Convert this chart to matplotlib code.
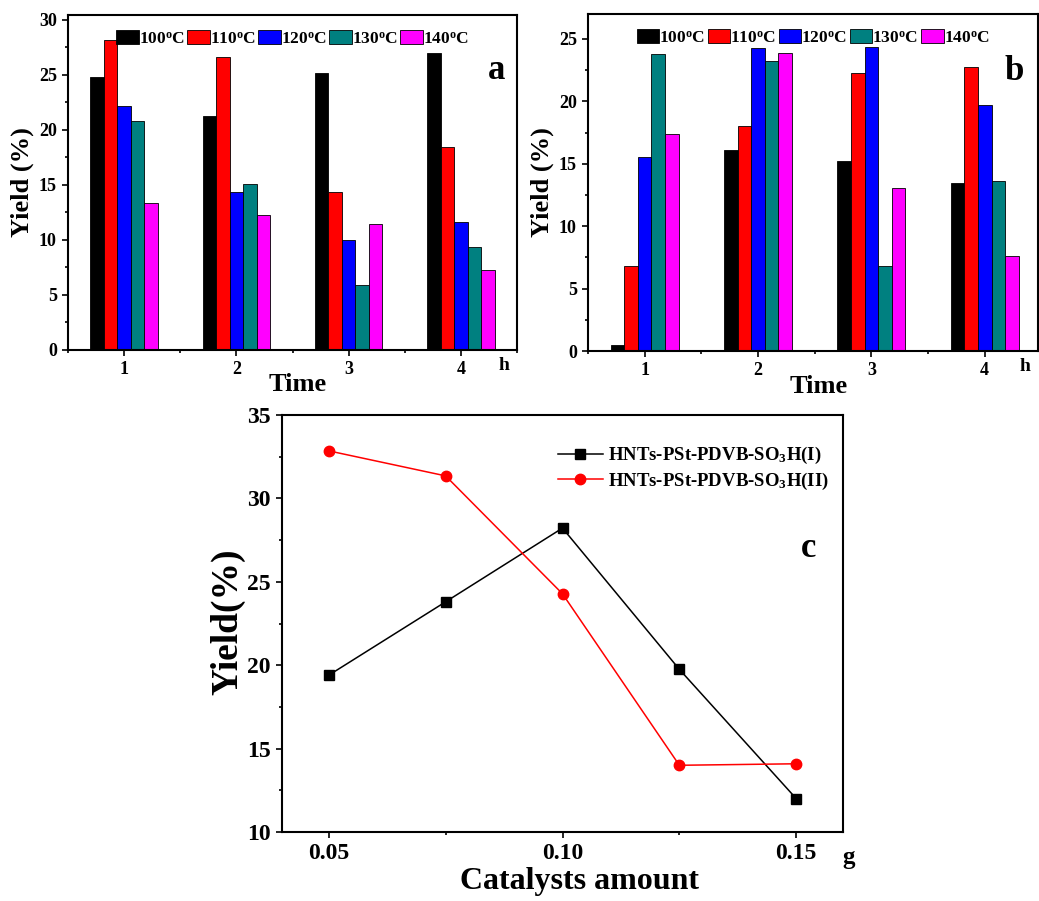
import numpy as np
import matplotlib
matplotlib.use("Agg")
import matplotlib.pyplot as plt
from matplotlib.ticker import MultipleLocator

# fonts: Times-like bold everywhere
plt.rcParams['font.family'] = ['Liberation Serif', 'DejaVu Serif']
plt.rcParams['font.weight'] = 'bold'
plt.rcParams['axes.labelweight'] = 'bold'
plt.rcParams['mathtext.fontset'] = 'custom'
plt.rcParams['mathtext.rm'] = 'Liberation Serif:bold'
plt.rcParams['mathtext.bf'] = 'Liberation Serif:bold'
plt.rcParams['mathtext.it'] = 'Liberation Serif:italic:bold'

# data
times = [1, 2, 3, 4]
temps = ['100', '110', '120', '130', '140']
bar_colors = ['#000000', '#ff0000', '#0000ff', '#008080', '#ff00ff']

yield_a = {
    '100': [24.85, 21.3, 25.15, 27.0],
    '110': [28.2, 26.6, 14.4, 18.45],
    '120': [22.2, 14.4, 10.0, 11.6],
    '130': [20.8, 15.1, 5.9, 9.4],
    '140': [13.4, 12.3, 11.45, 7.3],
}
yield_b = {
    '100': [0.5, 16.1, 15.25, 13.45],
    '110': [6.85, 18.0, 22.28, 22.75],
    '120': [15.55, 24.28, 24.33, 19.74],
    '130': [23.77, 23.2, 6.84, 13.65],
    '140': [17.41, 23.9, 13.06, 7.6],
}

amount = [0.05, 0.075, 0.10, 0.125, 0.15]
yield_I = [19.4, 23.8, 28.22, 19.75, 12.0]
yield_II = [32.85, 31.35, 24.28, 14.0, 14.09]

W, H = 1039, 901
fig = plt.figure(figsize=(W / 100, H / 100), dpi=100)

def px_axes(left, right, top, bottom):
    return fig.add_axes([left / W, (H - bottom) / H, (right - left) / W, (bottom - top) / H])

def style_axes(ax, tick_size):
    for s in ax.spines.values():
        s.set_linewidth(1.5)
    ax.tick_params(which='major', direction='out', length=4.5, width=1.2,
                   labelsize=tick_size, top=False, right=False)
    ax.tick_params(which='minor', direction='out', length=2.5, width=1.2,
                   top=False, right=False)

def bar_panel(ax, data, ylim, ymajor, letter, letter_xy):
    w = 0.12
    x = np.array(times, dtype=float)
    for i, t in enumerate(temps):
        ax.bar(x + (i - 2) * w, data[t], width=w, color=bar_colors[i],
               edgecolor='black', linewidth=0.6, label=t + '$^{\\rm o}$C')
    ax.set_xlim(0.5, 4.5)
    ax.set_ylim(*ylim)
    ax.set_xticks(times)
    ax.xaxis.set_minor_locator(MultipleLocator(0.5))
    ax.yaxis.set_major_locator(MultipleLocator(ymajor))
    ax.yaxis.set_minor_locator(MultipleLocator(ymajor / 2))
    style_axes(ax, 13)
    ax.set_ylabel('Yield (%)', fontsize=19)
    ax.yaxis.set_label_coords(-0.075, 0.5)
    ax.set_xlabel('Time', fontsize=19)
    ax.xaxis.set_label_coords(0.512, -0.07)
    ax.text(0.972, -0.045, 'h', transform=ax.transAxes, fontsize=14,
            ha='center', va='center')
    ax.text(letter_xy[0], letter_xy[1], letter, transform=ax.transAxes,
            fontsize=25, ha='center', va='center')
    ax.legend(loc='upper center', bbox_to_anchor=(0.5, 0.985), ncol=5,
              frameon=False, fontsize=12.5, handlelength=1.3, handleheight=0.8,
              handletextpad=0.0, columnspacing=0.15, borderaxespad=0.2)

# panel a
ax_a = px_axes(68, 517, 15, 350)
bar_panel(ax_a, yield_a, (0, 30.45), 5, 'a', (0.955, 0.835))

# panel b
ax_b = px_axes(588, 1038, 14, 351)
bar_panel(ax_b, yield_b, (0, 27), 5, 'b', (0.947, 0.83))
ax_b.set_xlim(0.5, 4.47)

# panel c
ax_c = px_axes(282, 843, 415, 832)
ax_c.plot(amount, yield_I, '-s', color='black', lw=1.1, ms=6.5,
          label='HNTs-PSt-PDVB-SO$_{\\rm 3}$H(I)')
ax_c.plot(amount, yield_II, '-o', color='#ff0000', lw=1.1, ms=7.5,
          label='HNTs-PSt-PDVB-SO$_{\\rm 3}$H(II)')
ax_c.set_xlim(0.04, 0.16)
ax_c.set_ylim(10, 35)
ax_c.set_xticks([0.05, 0.10, 0.15])
ax_c.set_xticklabels(['0.05', '0.10', '0.15'])
ax_c.xaxis.set_minor_locator(MultipleLocator(0.025))
ax_c.yaxis.set_major_locator(MultipleLocator(5))
ax_c.yaxis.set_minor_locator(MultipleLocator(2.5))
style_axes(ax_c, 17)
ax_c.set_ylabel('Yield(%)', fontsize=27)
ax_c.yaxis.set_label_coords(-0.065, 0.505)
ax_c.set_xlabel('Catalysts amount', fontsize=23)
ax_c.xaxis.set_label_coords(0.53, -0.085)
ax_c.text(1.01, -0.06, 'g', transform=ax_c.transAxes, fontsize=18,
          ha='center', va='center')
ax_c.text(0.938, 0.681, 'c', transform=ax_c.transAxes, fontsize=25,
          ha='center', va='center')
ax_c.legend(loc='upper right', bbox_to_anchor=(0.995, 0.955), frameon=False,
            fontsize=13.5, handlelength=2.4, handletextpad=0.3,
            labelspacing=0.25, borderaxespad=0.2)

fig.savefig('out.png', dpi=100)
